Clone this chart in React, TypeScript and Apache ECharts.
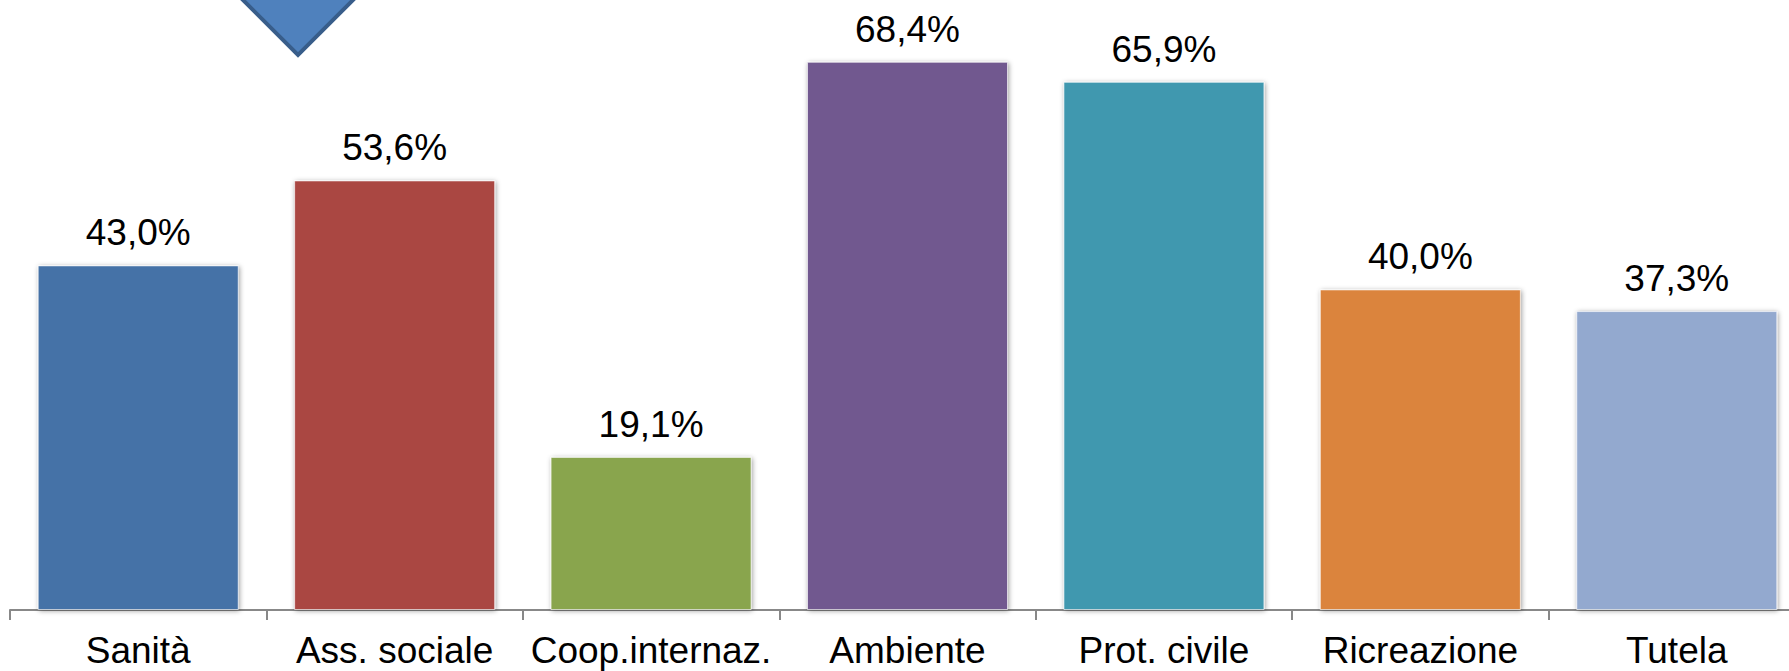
import React, { useEffect, useRef } from "react";
import * as echarts from "echarts";

// Share of organisations per sector
const categories = [
  "Sanità",
  "Ass. sociale",
  "Coop.internaz.",
  "Ambiente",
  "Prot. civile",
  "Ricreazione",
  "Tutela",
];
const values = [43.0, 53.6, 19.1, 68.4, 65.9, 40.0, 37.3];
const barColors = [
  "#4572A7",
  "#AA4643",
  "#89A54E",
  "#71588F",
  "#4198AF",
  "#DB843D",
  "#93A9CF",
];

const FONT = "'Liberation Sans', Arial, sans-serif";

const fmtPct = (v: number) => v.toFixed(1).replace(".", ",") + "%";

export default function App() {
  const ref = useRef<HTMLDivElement>(null);

  useEffect(() => {
    if (!ref.current) return;
    const chart = echarts.init(ref.current, undefined, { renderer: "svg" });
    chart.setOption({
      animation: false,
      backgroundColor: "#ffffff",
      // the plot runs a little past the right edge of the page
      grid: { left: 10, top: 49, width: 1795, height: 561 },
      xAxis: {
        type: "category",
        data: categories,
        axisLine: { show: true, lineStyle: { color: "#888888", width: 2 } },
        axisTick: {
          show: true,
          alignWithLabel: false,
          length: 10,
          lineStyle: { color: "#888888", width: 2 },
        },
        axisLabel: {
          color: "#000000",
          fontFamily: FONT,
          fontSize: 37,
          lineHeight: 37,
          margin: 22,
          interval: 0,
        },
      },
      yAxis: {
        type: "value",
        min: 0,
        max: 70,
        show: false,
        splitLine: { show: false },
      },
      series: [
        {
          type: "bar",
          barWidth: 201,
          clip: false,
          data: values.map((v, i) => ({
            value: v,
            itemStyle: {
              color: barColors[i],
              borderColor: "rgba(255,255,255,0.6)",
              borderWidth: 1,
              shadowColor: "rgba(0,0,0,0.4)",
              shadowBlur: 5,
              shadowOffsetX: 1,
              shadowOffsetY: 1,
            },
          })),
          label: {
            show: true,
            position: "top",
            distance: 14,
            color: "#000000",
            fontFamily: FONT,
            fontSize: 37,
            lineHeight: 37,
            formatter: (p: any) => fmtPct(p.value),
          },
        },
      ],
      graphic: [
        {
          type: "polygon",
          z: 100,
          shape: {
            points: [
              [228, -15],
              [368, -15],
              [298, 55],
            ],
          },
          style: {
            fill: "#4F81BD",
            stroke: "#385D8A",
            lineWidth: 4,
            lineJoin: "miter",
          },
        },
      ],
    });
    return () => chart.dispose();
  }, []);

  return (
    <div
      ref={ref}
      style={{ position: "fixed", left: 0, top: 0, width: 1820, height: 671, background: "#fff" }}
    />
  );
}
